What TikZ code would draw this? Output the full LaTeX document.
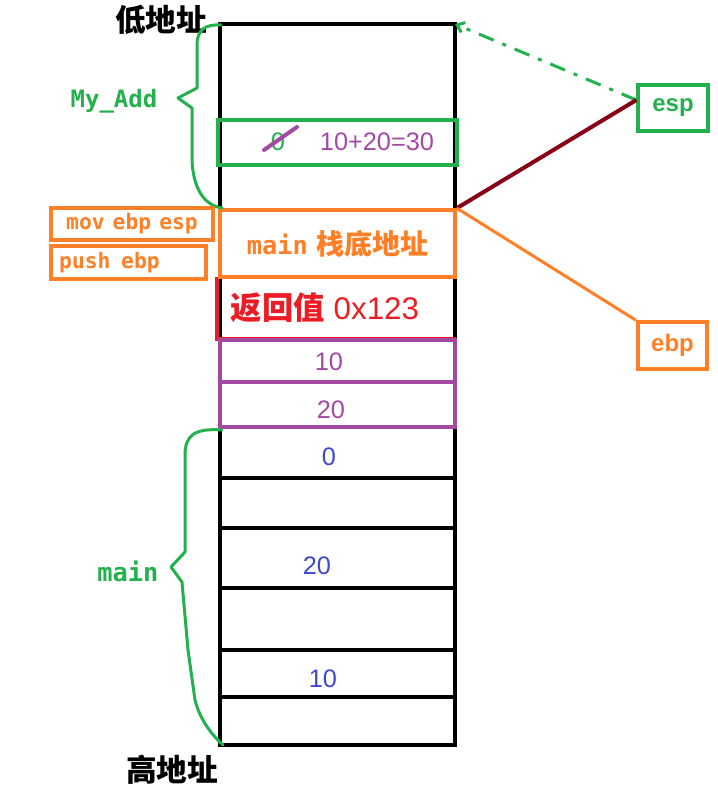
\documentclass[tikz,border=0pt]{standalone}
\usepackage{fontspec}
\setmainfont{Liberation Sans}
\newfontfamily\cjkfont{Noto Sans CJK SC}
\newfontfamily\codefont{DejaVu Sans Mono}
\usetikzlibrary{arrows.meta}

\definecolor{stkgreen}{RGB}{34,177,76}
\definecolor{stkorange}{RGB}{255,127,39}
\definecolor{stkpurple}{RGB}{163,73,164}
\definecolor{stkred}{RGB}{237,28,36}
\definecolor{stkdarkred}{RGB}{136,0,21}
\definecolor{stkblue}{RGB}{63,72,204}

\tikzset{every picture/.style={line width=0.75pt}}

\begin{document}
\begin{tikzpicture}[x=0.75pt,y=0.75pt,yscale=-1,xscale=1,
  col/.style={line width=3},
  addr/.style={font=\cjkfont\bfseries\fontsize{23}{27}\selectfont},
  val/.style={font=\fontsize{19}{22}\selectfont},
  code/.style={font=\codefont\bfseries\fontsize{16}{19}\selectfont},
  cmdbox/.style={draw=stkorange, line width=3, text=stkorange, code, inner sep=0pt},
  regbox/.style={draw, line width=3, minimum width=52pt, minimum height=35pt, inner sep=0pt, font=\bfseries\fontsize{18}{21}\selectfont},
  brace/.style={color=stkgreen, line width=2.25, line join=round, line cap=round}]
\path (0,0) rectangle (718,794); %set diagram size 718 x 794

%Shape: Stack column
\draw [col] (220,24) rectangle (455,745) ;
\foreach \y in {478,528,588,650,697} {
  \draw [col] (220,\y) -- (455,\y) ;
}

%Shape: Rectangle (result slot)
\draw [col, color=stkgreen] (218,120) rectangle (457,165) ;
%Shape: Return address (red edges)
\draw [col, color=stkred] (217,277) -- (217,339) -- (456,339) ;
%Shape: Rectangle (arg 10)
\draw [col, color=stkpurple] (220,340) rectangle (455,382) ;
%Shape: Rectangle (arg 20)
\draw [col, color=stkpurple] (220,382) rectangle (455,427) ;

% Saved ebp slot
\draw (337.5,243.5) node [draw=stkorange, line width=3, text=stkorange, minimum width=176pt, minimum height=50pt, inner sep=0pt] (base) {{\codefont\bfseries\fontsize{19}{22}\selectfont main}\hspace{6pt}{\cjkfont\bfseries\fontsize{21}{25}\selectfont 栈底地址}};

% Text Node
\draw (161,20) node [addr] (low) {低地址};
% Text Node
\draw (172,770) node [addr] (high) {高地址};

% Text Node
\draw (278,142) node [val, text=stkgreen] (old) {0};
%Straight Lines (strike out)
\draw [stkpurple, line width=3, line cap=round] (264,150) -- (297,127) ;
% Text Node
\draw (377,142) node [val, text=stkpurple] (sum) {10+20=30};
% Text Node
\draw (325,308) node [text=stkred, font=\fontsize{23.5}{27}\selectfont] (retv) {{\cjkfont\bfseries 返回值} 0x123};
% Text Node
\draw (329,362) node [val, text=stkpurple] (arga) {10};
% Text Node
\draw (331,410) node [val, text=stkpurple] (argb) {20};
% Text Node
\draw (329,457) node [val, text=stkblue] (loca) {0};
% Text Node
\draw (317,566) node [val, text=stkblue] (locb) {20};
% Text Node
\draw (323,679) node [val, text=stkblue] (locc) {10};

%Curve Lines (My_Add brace)
\draw [brace] (221,25) .. controls (205,24) and (197,30) .. (197,45) -- (197,88) -- (178,98) -- (192,108) -- (192,160) .. controls (193,185) and (202,205) .. (222,208) ;
%Curve Lines (main brace)
\draw [brace] (222,430) .. controls (195,428) and (185,435) .. (185,455) -- (185,552) -- (171,567) -- (182,582) -- (188,650) -- (195,700) .. controls (200,720) and (212,735) .. (223,745) ;
% Text Node
\draw (114,101) node [text=stkgreen, font=\codefont\bfseries\fontsize{18}{21}\selectfont] (add) {My\_Add};
% Text Node
\draw (128,571) node [text=stkgreen, font=\codefont\bfseries\fontsize{19}{22}\selectfont] (mainl) {main};

% Instruction boxes
\draw (132,224) node [cmdbox, minimum width=121pt, minimum height=24pt] (mov) {mov\hspace{6pt}ebp\hspace{6pt}esp};
\draw (128.5,262.5) node [cmdbox, minimum width=116pt, minimum height=25pt, text width=104pt, align=left] (push) {push\hspace{8pt}ebp};

% Register boxes
\draw (673,108) node [regbox, draw=stkgreen, text=stkgreen] (esp) {esp};
\draw (672.5,345.5) node [regbox, draw=stkorange, text=stkorange] (ebp) {ebp};

\coordinate (top) at (455,24);
%Straight Lines
\draw [stkgreen, line width=2.25, dash pattern=on 12pt off 7pt on 3pt off 7pt, -{Straight Barb[length=5pt,width=8pt]}] ([yshift=-6pt]esp.west) -- (top) ;
%Straight Lines
\draw [stkdarkred, line width=3] (base.north east) -- ([yshift=-6pt]esp.west) ;
%Straight Lines
\draw [stkorange, line width=2.25] (base.north east) -- (ebp.north west) ;

\end{tikzpicture}
\end{document}
